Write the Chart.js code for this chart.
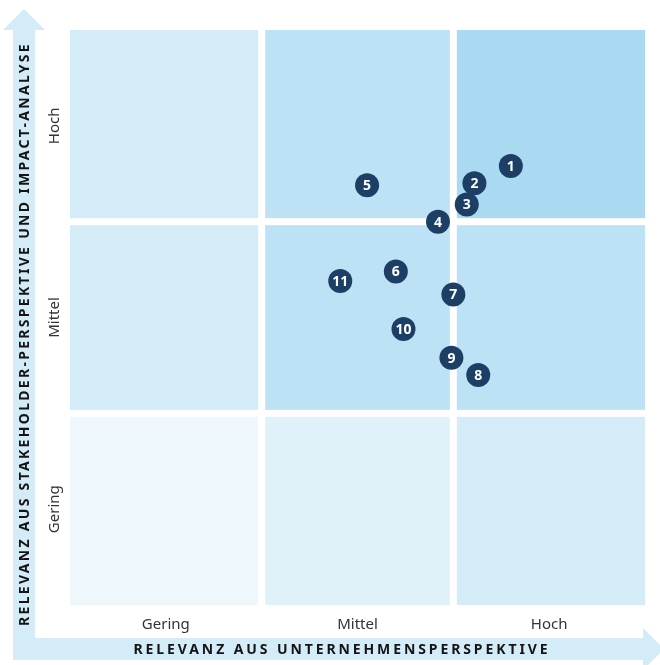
<!DOCTYPE html>
<html>
<head>
<meta charset="utf-8">
<script src="https://cdn.jsdelivr.net/npm/chart.js@4.4.1/dist/chart.umd.min.js"></script>
<style>
  html, body { margin: 0; padding: 0; background: #fff; }
  #wrap { width: 660px; height: 665px; }
</style>
</head>
<body>
<div id="wrap"><canvas id="matrix"></canvas></div>
<script>
// levels on both axes
const categories = ['Gering', 'Mittel', 'Hoch'];
const tickValues = [0.5, 1.5, 2.5];

// topics (number shown in the circle)
const topicIds = [1, 2, 3, 4, 5, 6, 7, 8, 9, 10, 11];
const xValues = [2.30, 2.11, 2.07, 1.92, 1.55, 1.70, 2.00, 2.13, 1.99, 1.74, 1.41];
const yValues = [2.29, 2.20, 2.09, 2.00, 2.19, 1.74, 1.62, 1.20, 1.29, 1.44, 1.69];

// cell colours, rows from bottom (Gering) to top (Hoch), columns left to right
const cellColors = [
    ['#eef7fc', '#e0f1fa', '#d4ebf8'],
    ['#d4ebf8', '#bde2f6', '#bde2f6'],
    ['#d4ebf8', '#bde2f6', '#a9daf2']
];

const xTitle = 'RELEVANZ AUS UNTERNEHMENSPERSPEKTIVE';
const yTitle = 'RELEVANZ AUS STAKEHOLDER-PERSPEKTIVE UND IMPACT-ANALYSE';

const navy = '#1d3f66';
const band = '#d4ebf8';
const fontFam = "'Noto Sans', 'Open Sans', sans-serif";

const points = topicIds.map((id, i) => ({x: xValues[i], y: yValues[i], id: id}));

// arrows behind everything, cells behind the points, numbers and titles on top
const matrixPlugin = {
    id: 'matrix',
    beforeDraw(chart) {
        const ctx = chart.ctx;
        ctx.save();
        ctx.fillStyle = band;
        // vertical arrow
        ctx.fillRect(13, 30, 22, 630);
        ctx.beginPath();
        ctx.moveTo(3, 30);
        ctx.lineTo(24, 9);
        ctx.lineTo(45, 30);
        ctx.closePath();
        ctx.fill();
        // horizontal arrow
        ctx.fillRect(13, 638, 630, 22);
        ctx.beginPath();
        ctx.moveTo(643, 628);
        ctx.lineTo(664, 649);
        ctx.lineTo(643, 670);
        ctx.closePath();
        ctx.fill();
        ctx.restore();
    },
    beforeDatasetsDraw(chart) {
        const ctx = chart.ctx;
        const xs = chart.scales.x, ys = chart.scales.y;
        const half = 3.5;
        ctx.save();
        for (let r = 0; r < 3; r++) {
            for (let c = 0; c < 3; c++) {
                const l = xs.getPixelForValue(c) + (c > 0 ? half : 0);
                const rt = xs.getPixelForValue(c + 1) - (c < 2 ? half : 0);
                const b = ys.getPixelForValue(r) - (r > 0 ? half : 0);
                const t = ys.getPixelForValue(r + 1) + (r < 2 ? half : 0);
                ctx.fillStyle = cellColors[r][c];
                ctx.fillRect(l, t, rt - l, b - t);
            }
        }
        ctx.restore();
    },
    afterDatasetsDraw(chart) {
        const ctx = chart.ctx;
        const meta = chart.getDatasetMeta(0);
        ctx.save();
        ctx.fillStyle = '#fff';
        ctx.font = 'bold 14px ' + fontFam;
        ctx.textAlign = 'center';
        ctx.textBaseline = 'middle';
        meta.data.forEach((el, i) => {
            ctx.fillText(String(points[i].id), el.x, el.y + 1);
        });
        ctx.restore();
    },
    afterDraw(chart) {
        const ctx = chart.ctx;
        ctx.save();
        ctx.fillStyle = '#141414';
        ctx.font = 'bold 14px ' + fontFam;
        ctx.textAlign = 'center';
        ctx.textBaseline = 'middle';
        ctx.letterSpacing = '2.9px';
        ctx.fillText(xTitle, 342, 650);
        ctx.letterSpacing = '2.3px';
        ctx.translate(25, 334);
        ctx.rotate(-Math.PI / 2);
        ctx.fillText(yTitle, 0, 0);
        ctx.restore();
    }
};

const levelTicks = {
    color: '#333',
    font: {family: fontFam, size: 15},
    callback: (v) => categories[tickValues.indexOf(v)]
};

new Chart(document.getElementById('matrix'), {
    type: 'scatter',
    data: {
        datasets: [{
            data: points,
            pointRadius: 12,
            pointHoverRadius: 12,
            pointBackgroundColor: navy,
            pointBorderWidth: 0
        }]
    },
    options: {
        responsive: true,
        maintainAspectRatio: false,
        animation: false,
        layout: {padding: {left: 0, right: 15, top: 30, bottom: 0}},
        plugins: {legend: {display: false}, tooltip: {enabled: false}},
        scales: {
            x: {
                min: 0, max: 3,
                grid: {display: false},
                border: {display: false},
                afterBuildTicks: (s) => { s.ticks = tickValues.map(v => ({value: v})); },
                afterFit: (s) => { s.height = 60; },
                ticks: Object.assign({padding: 3, maxRotation: 0}, levelTicks)
            },
            y: {
                min: 0, max: 3,
                grid: {display: false},
                border: {display: false},
                afterBuildTicks: (s) => { s.ticks = tickValues.map(v => ({value: v})); },
                afterFit: (s) => { s.width = 70; },
                ticks: Object.assign({padding: -17, minRotation: 90, maxRotation: 90, crossAlign: 'center'}, levelTicks)
            }
        }
    },
    plugins: [matrixPlugin]
});
</script>
</body>
</html>
